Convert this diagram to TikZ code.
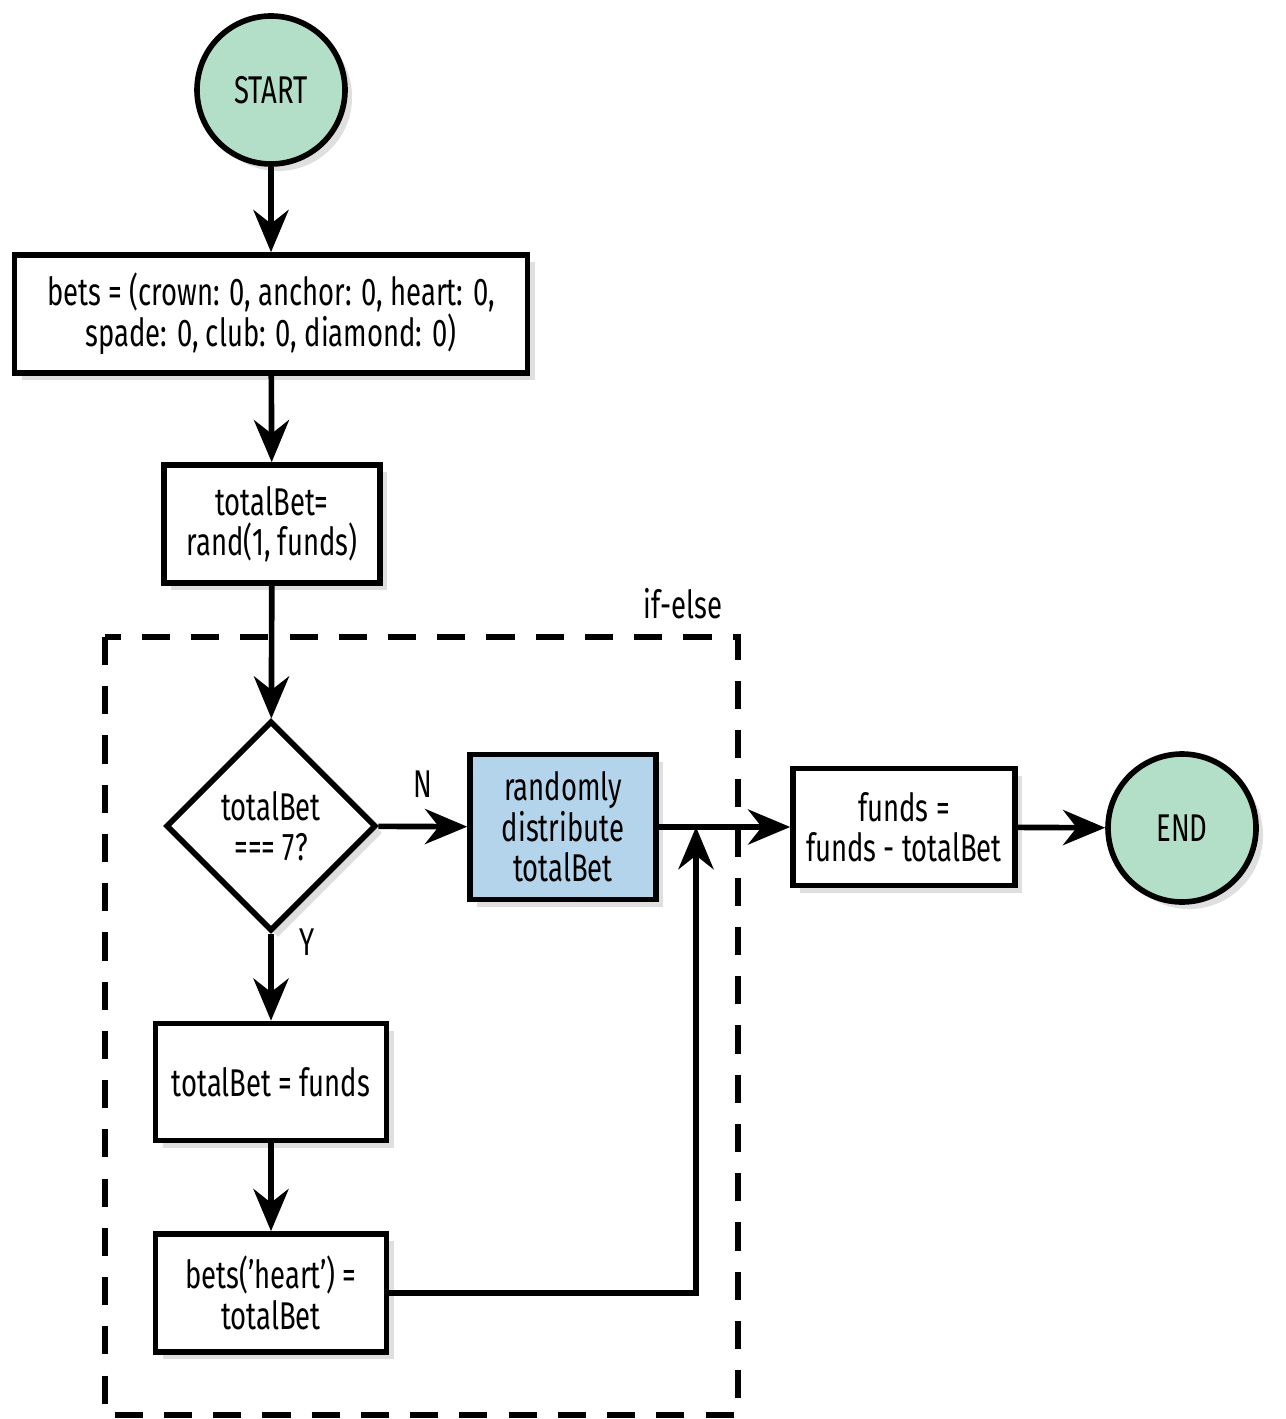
\documentclass[tikz,border=0pt]{standalone}
\usepackage{fontspec}
\setmainfont{Fira Sans}[FakeStretch=0.71]
\usetikzlibrary{arrows.meta,shapes.geometric,shadows}
\definecolor{termgreen}{HTML}{B3DFC8}
\definecolor{stepblue}{HTML}{B3D4EA}
\newlength{\pxu}\setlength{\pxu}{0.01cm}
\tikzset{
  base/.style={draw,line width=1.6pt,font=\fontsize{11pt}{11.5pt}\selectfont,
    align=center,inner sep=0pt,drop shadow={shadow xshift=2pt,shadow yshift=-2pt,opacity=0.25}},
  term/.style={base,circle,fill=termgreen,minimum size=148\pxu},
  procbox/.style={base,rectangle,fill=white},
  choice/.style={base,diamond,fill=white,minimum width=210\pxu,minimum height=210\pxu},
  flow/.style={line width=1.6pt,-{Stealth[length=12pt,width=10pt]}},
  lbl/.style={font=\fontsize{11pt}{11.5pt}\selectfont},
}
\begin{document}
\begin{tikzpicture}[x=0.01cm,y=-0.01cm]
  \useasboundingbox (0,0) rectangle (1285,1419);
  % loop frame
  \draw[line width=1.6pt,dash pattern=on 8pt off 6pt] (105,637) rectangle (738,1415);
  \node[lbl] (frame) at (683,604) {if-else};

  \node[term] (start) at (271,90) {START};
  \node[procbox,minimum width=513\pxu,minimum height=118\pxu] (bets) at (271,314)
    {bets = (crown: 0, anchor: 0, heart: 0,\\spade: 0, club: 0, diamond: 0)};
  \node[procbox,minimum width=216\pxu,minimum height=118\pxu] (total) at (272,524)
    {totalBet=\\rand(1, funds)};
  \node[choice] (seven) at (271,826) {totalBet\\=== 7?};
  \node[procbox,fill=stepblue,minimum width=186\pxu,minimum height=145\pxu] (spread) at (563,827)
    {randomly\\distribute\\totalBet};
  \node[procbox,minimum width=231\pxu,minimum height=117\pxu] (all) at (271,1082)
    {totalBet = funds};
  \node[procbox,minimum width=231\pxu,minimum height=118\pxu] (heart) at (271,1293)
    {bets('heart') =\\totalBet};
  \node[procbox,minimum width=222\pxu,minimum height=117\pxu] (funds) at (904,827)
    {funds =\\funds - totalBet};
  \node[term] (end) at (1182,828) {END};
  \coordinate (join) at (696,827);

  \draw[flow] (start) -- (bets);
  \draw[flow] (bets) -- (total);
  \draw[flow] (total) -- (seven);
  \draw[flow] (seven) -- node[lbl,above,yshift=4pt] {N} (spread);
  \draw[flow] (seven) -- node[lbl,right,xshift=4pt,yshift=10pt] {Y} (all);
  \draw[flow] (all) -- (heart);
  \draw[flow] (heart.east) -| (join);
  \draw[flow] (spread) -- (funds);
  \draw[flow] (funds) -- (end);
\end{tikzpicture}
\end{document}
